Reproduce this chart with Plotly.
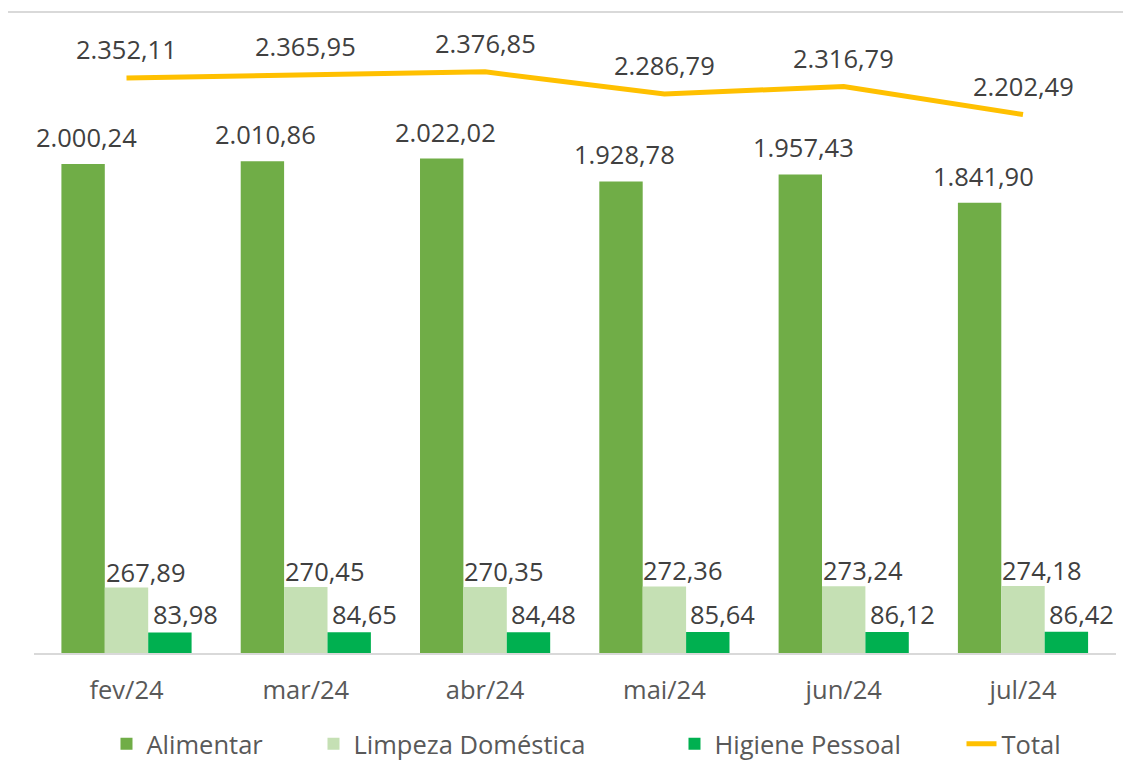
import plotly.graph_objects as go

meses = ["fev/24", "mar/24", "abr/24", "mai/24", "jun/24", "jul/24"]
alimentar = [2000.24, 2010.86, 2022.02, 1928.78, 1957.43, 1841.90]
limpeza = [267.89, 270.45, 270.35, 272.36, 273.24, 274.18]
higiene = [83.98, 84.65, 84.48, 85.64, 86.12, 86.42]
total = [2352.11, 2365.95, 2376.85, 2286.79, 2316.79, 2202.49]

FONT = "Open Sans"
LABEL_COLOR = "#404040"
TEXT_COLOR = "#595959"
FS = 25.5


def fmt(v):
    s = f"{v:,.2f}"
    return s.replace(",", "X").replace(".", ",").replace("X", ".")


fig = go.Figure()
fig.add_trace(go.Bar(name="Alimentar", x=meses, y=alimentar, marker_color="#70AD47",
                     marker_line_width=0, legendwidth=162))
fig.add_trace(go.Bar(name="Limpeza Doméstica", x=meses, y=limpeza, marker_color="#C5E0B4",
                     marker_line_width=0, legendwidth=316))
fig.add_trace(go.Bar(name="Higiene Pessoal", x=meses, y=higiene, marker_color="#00B050",
                     marker_line_width=0, legendwidth=242))
fig.add_trace(go.Scatter(name="Total", x=meses, y=total, mode="lines",
                         line=dict(color="#FFC000", width=5), legendwidth=66))

ann = []
for i, m in enumerate(meses):
    ann.append(dict(x=m, y=alimentar[i], text=fmt(alimentar[i]), xref="x", yref="y",
                    showarrow=False, xanchor="center", yanchor="bottom",
                    xshift=-40, yshift=8, font=dict(family=FONT, size=FS, color=LABEL_COLOR)))
    ann.append(dict(x=m, y=limpeza[i], text=fmt(limpeza[i]), xref="x", yref="y",
                    showarrow=False, xanchor="left", yanchor="bottom",
                    xshift=-23, yshift=-3, font=dict(family=FONT, size=FS, color=LABEL_COLOR)))
    ann.append(dict(x=m, y=higiene[i], text=fmt(higiene[i]), xref="x", yref="y",
                    showarrow=False, xanchor="left", yanchor="bottom",
                    xshift=24, yshift=-1, font=dict(family=FONT, size=FS, color=LABEL_COLOR)))
    ann.append(dict(x=m, y=total[i], text=fmt(total[i]), xref="x", yref="y",
                    showarrow=False, xanchor="center", yanchor="bottom",
                    xshift=0, yshift=10, font=dict(family=FONT, size=FS, color=LABEL_COLOR)))

fig.update_layout(
    width=1131, height=776,
    margin=dict(l=26, r=23, t=12, b=131),
    paper_bgcolor="white", plot_bgcolor="white",
    barmode="group", bargap=0.274, bargroupgap=0,
    font=dict(family=FONT, size=FS, color=TEXT_COLOR),
    showlegend=True,
    legend=dict(orientation="h", x=0.067, xanchor="left", y=-0.144, yanchor="middle",
                font=dict(family=FONT, size=FS, color=TEXT_COLOR), traceorder="normal",
                itemwidth=30),
    annotations=ann,
    shapes=[dict(type="rect", xref="paper", yref="paper", x0=-0.028, x1=1.1, y0=-0.4, y1=1.0126,
                 line=dict(color="#D9D9D9", width=2), fillcolor="rgba(0,0,0,0)", layer="below")],
)
fig.update_xaxes(showline=True, linecolor="#D9D9D9", linewidth=2, showgrid=False,
                 ticks="", ticklabelstandoff=13, automargin=False,
                 tickfont=dict(family=FONT, size=FS, color=TEXT_COLOR))
fig.update_yaxes(visible=False, range=[0, 2589], showgrid=False, zeroline=False)

fig.write_html("out.html")
